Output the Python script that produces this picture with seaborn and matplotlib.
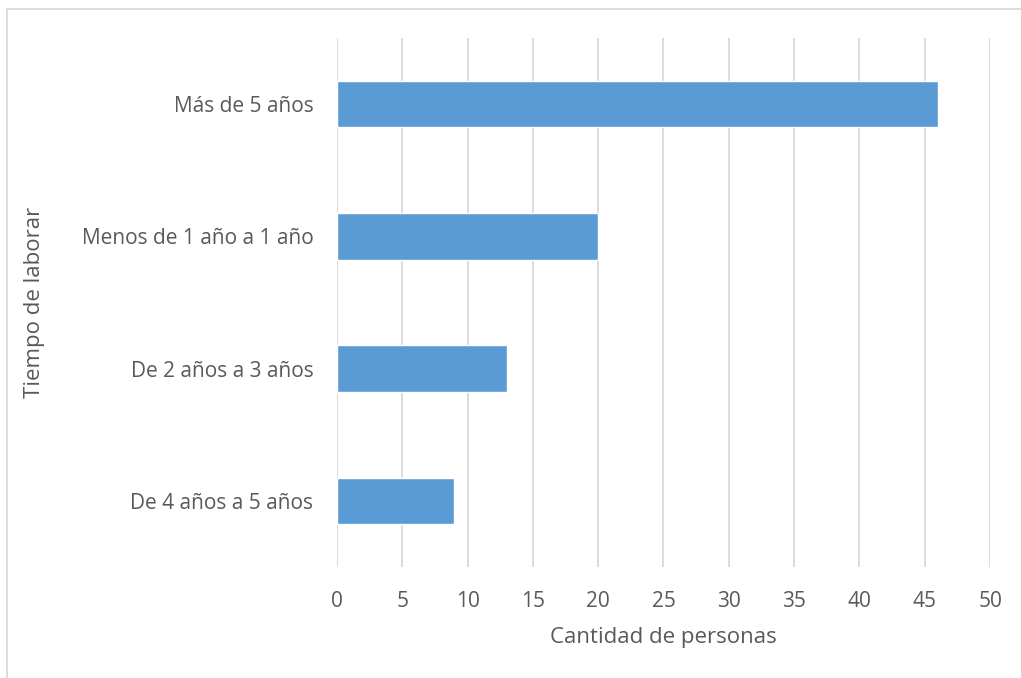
import matplotlib
matplotlib.use("Agg")
from matplotlib import pyplot as plt
import seaborn as sb
import pandas as pd

categorias = ["Más de 5 años", "Menos de 1 año a 1 año", "De 2 años a 3 años", "De 4 años a 5 años"]
personas = [46, 20, 13, 9]
ticks_x = [0, 5, 10, 15, 20, 25, 30, 35, 40, 45, 50]

def main():
    sb.set_style("white")
    plt.rcParams["font.family"] = ["Open Sans", "DejaVu Sans"]
    gris = "#595959"

    df = pd.DataFrame({"Tiempo de laborar": categorias, "Cantidad de personas": personas})

    fig = plt.figure(figsize=(10.21, 6.78), dpi=100)
    ax = fig.add_axes([0.330, 0.1637, 0.6397, 0.7803])

    sb.barplot(data=df, y="Tiempo de laborar", x="Cantidad de personas", order=categorias,
               color="#5B9BD5", saturation=1, width=0.35, ax=ax, zorder=3)

    ax.set_xlim(0, 50)
    ax.set_ylim(3.5, -0.5)
    ax.set_xticks(ticks_x)
    ax.grid(axis="x", color="#D9D9D9", linewidth=1.3, zorder=0)
    ax.tick_params(axis="both", length=0, labelsize=15, labelcolor=gris)
    ax.tick_params(axis="x", pad=17)
    ax.tick_params(axis="y", pad=17)
    for s in ax.spines.values():
        s.set_visible(False)

    ax.set_xlabel("Cantidad de personas", fontsize=16, color=gris, labelpad=11)
    ax.set_ylabel("Tiempo de laborar", fontsize=16, color=gris, labelpad=26)

    # marco del gráfico
    fig.add_artist(plt.Line2D([7 / 1021, 1], [1 - 9 / 678, 1 - 9 / 678], color="#D9D9D9", lw=1.3,
                              transform=fig.transFigure))
    fig.add_artist(plt.Line2D([7 / 1021, 7 / 1021], [0, 1 - 9 / 678], color="#D9D9D9", lw=1.3,
                              transform=fig.transFigure))

    fig.savefig("out.png", dpi=100, facecolor="white")

if __name__ == "__main__":
    main()
